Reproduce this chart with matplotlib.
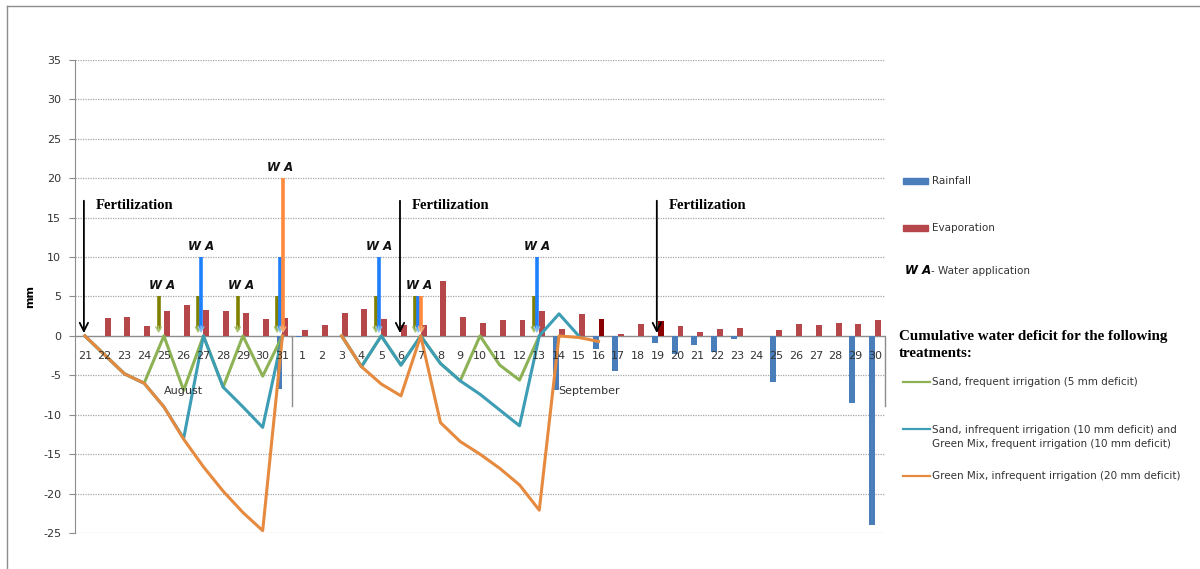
import numpy as np
import matplotlib
matplotlib.use("Agg")
import matplotlib.pyplot as plt
from matplotlib.lines import Line2D
from matplotlib.patches import Rectangle

plt.rcParams['axes.unicode_minus'] = False

# Categories: Aug 21-31 then Sep 1-30
day_labels = [str(d) for d in range(21, 32)] + [str(d) for d in range(1, 31)]
months = ['August', 'September']
month_len = [11, 30]

nan = np.nan

# Evaporation (mm), positive bars
evaporation = [0, 2.3, 2.45, 1.2, 3.2, 3.9, 3.3, 3.2, 2.95, 2.15, 2.3,
               0.75, 1.4, 2.9, 3.4, 2.2, 1.4, 1.4, 7.0, 2.45, 1.6,
               2.0, 2.0, 3.2, 0.85, 2.8, 2.2, 0.25, 1.5, 1.85, 1.2,
               0.5, 0.9, 1.0, 0, 0.75, 1.5, 1.4, 1.65, 1.5, 2.0]
evap_dark = ['16', '19']   # September days drawn in dark red

# Rainfall (mm), drawn as negative bars
rainfall = [0, 0, 0, 0, 0, 0, 0, 0, 0, 0, -6.7,
            -0.15, 0, 0, 0, 0, 0, 0, 0, 0, 0,
            0, 0, 0, -6.9, 0, -1.6, -4.4, 0, -0.85, -2.3,
            -1.2, -2.0, -0.4, 0, -5.9, 0, 0, 0, -8.5, -24.0]

# Cumulative water deficit per treatment
sand_freq = [0, -2.4, -4.8, -6.0, 0, -6.9, 0, -6.5, 0, -5.1, 0,
             nan, nan, 0, -3.9, 0, -3.7, 0, -3.5, -5.7, 0,
             -3.7, -5.6, 0] + [nan] * 17
sand_infreq = [0, -2.4, -4.8, -6.0, -9.0, -13.0, 0, -6.5, -9.0, -11.6, 0,
               nan, nan, 0, -3.9, 0, -3.7, 0, -3.5, -5.7, -7.4,
               -9.4, -11.4, 0, 2.8, 0] + [nan] * 15
gm_infreq = [0, -2.4, -4.8, -6.0, -9.0, -13.1, -16.6, -19.7, -22.4, -24.7, 0,
             nan, nan, 0, -3.9, -6.1, -7.6, 0, -11.0, -13.4, -15.0,
             -16.8, -18.9, -22.1, 0, -0.2, -0.7] + [nan] * 14

# Water applications: (category index, mm)
wa_5mm = [(4, 5), (6, 5), (8, 5), (10, 5), (15, 5), (17, 5), (23, 5)]
wa_10mm = [(6, 10), (10, 10), (15, 10), (17, 5), (23, 10)]
wa_20mm = [(10, 20), (17, 5)]

fert_days = [0, 16, 29]

c_rain = '#4A7EBB'
c_evap = '#B5474A'
c_dark = '#8B0000'
c_green = '#8DB255'
c_teal = '#3C9DB5'
c_orange = '#E58A3E'
c_grid = '#A6A6A6'

fig = plt.figure(figsize=(12, 5.69), dpi=100)
W, H = 1200.0, 569.0

def px(x, y):
    return x / W, 1 - y / H

ax = fig.add_axes([75 / W, 1 - 533 / H, 810 / W, 473 / H])
x = np.arange(len(day_labels))
ax.set_xlim(-0.5, len(day_labels) - 0.5)
ax.set_ylim(-25, 35)

# grid + axes
for yv in range(-25, 40, 5):
    if yv != 0:
        ax.axhline(yv, color=c_grid, lw=0.9, ls=(0, (1, 1)), zorder=0)
ax.axhline(0, color='#8C8C8C', lw=1.0, zorder=1)
for s in ['top', 'right', 'bottom']:
    ax.spines[s].set_visible(False)
ax.spines['left'].set_color('#8C8C8C')
ax.set_xticks([])
ax.set_yticks(range(-25, 40, 5))
ax.tick_params(axis='y', length=4, color='#8C8C8C', labelsize=8, pad=6, labelcolor='#333333')

# bars
ecol = [c_dark if (i >= 11 and day_labels[i] in evap_dark) else c_evap for i in x]
ax.bar(x + 0.15, evaporation, width=0.3, color=ecol, zorder=2)
ax.bar(x - 0.15, rainfall, width=0.3, color=c_rain, zorder=2)

# deficit lines
ax.plot(x, sand_freq, color=c_green, lw=2.2, zorder=3)
ax.plot(x, sand_infreq, color=c_teal, lw=2.2, zorder=3)
ax.plot(x, gm_infreq, color=c_orange, lw=2.2, zorder=3)

# water application arrows
def wa_arrows(lst, col, head, off):
    for d, h in lst:
        xx = d + off
        ax.plot([xx, xx], [h, 0.8], color=col, lw=2.6, solid_capstyle='butt', zorder=4)
        ax.annotate('', xy=(xx, 0), xytext=(xx, 1.6),
                    arrowprops=dict(arrowstyle='->,head_length=0.35,head_width=0.2',
                                    color=head, lw=1.0), zorder=4)

wa_arrows(wa_5mm, '#808000', '#A9C46E', -0.27)
wa_arrows(wa_10mm, '#1E7FFF', '#8CC4F0', -0.12)
wa_arrows(wa_20mm, '#FF8A3D', '#F7B078', 0.03)

tops = {}
for lst in (wa_5mm, wa_10mm, wa_20mm):
    for d, h in lst:
        tops[d] = max(tops.get(d, 0), h)
for d, h in tops.items():
    ax.text(d - 0.1, h + 1.35, 'W A', ha='center', va='center', fontsize=8.5,
            fontweight='bold', style='italic', color='#111111', zorder=5)

# fertilization arrows
for d in fert_days:
    ax.annotate('', xy=(d - 0.05, 0), xytext=(d - 0.05, 17.5),
                arrowprops=dict(arrowstyle='->,head_length=0.6,head_width=0.3',
                                color='black', lw=1.3), zorder=5)
    ax.text(d + 0.55, 16.6, 'Fertilization', ha='left', va='center',
            fontsize=10.5, fontweight='bold', family='Liberation Serif')

# category labels
for i, lab in enumerate(day_labels):
    ax.text(i, -2.6, lab, ha='center', va='center', fontsize=8, color='#333333', zorder=6)
start = 0
for m, n in zip(months, month_len):
    ax.text(start + (n - 1) / 2, -7.05, m, ha='center', va='center', fontsize=8, color='#333333')
    ax.plot([start + n - 0.5] * 2, [0, -8.9], color='#8C8C8C', lw=1.0, clip_on=False)
    start += n

fig.text(*px(30, 297), 'mm', rotation=90, ha='center', va='center', fontsize=8, fontweight='bold')

# legend (manual)
fs = 7.5
fig.add_artist(Rectangle(px(903, 184), 25 / W, 6 / H, color=c_rain, transform=fig.transFigure))
fig.text(*px(932, 181), 'Rainfall', va='center', fontsize=fs, color='#333333')
fig.add_artist(Rectangle(px(903, 231), 25 / W, 6 / H, color=c_evap, transform=fig.transFigure))
fig.text(*px(932, 228), 'Evaporation', va='center', fontsize=fs, color='#333333')
fig.text(*px(905, 271), 'W A', va='center', fontsize=8.5, fontweight='bold', style='italic')
fig.text(*px(931, 271), '- Water application', va='center', fontsize=fs, color='#333333')
fig.text(*px(899, 345), 'Cumulative water deficit for the following\ntreatments:', va='center',
         fontsize=10.8, fontweight='bold', family='Liberation Serif', linespacing=1.35)
for yy, col, txt in [(382, c_green, 'Sand, frequent irrigation (5 mm deficit)'),
                     (429, c_teal, 'Sand, infrequent irrigation (10 mm deficit) and\nGreen Mix, frequent irrigation (10 mm deficit)'),
                     (476, c_orange, 'Green Mix, infrequent irrigation (20 mm deficit)')]:
    x0, y0 = px(903, yy)
    fig.add_artist(Line2D([x0, 930 / W], [y0, y0], color=col, lw=1.6, transform=fig.transFigure))
    ty = yy + 8 if '\n' in txt else yy
    fig.text(*px(932, ty), txt, va='center', fontsize=fs,
             color='#333333', linespacing=1.45)

# chart border (only top/left visible)
fig.add_artist(Line2D([7 / W, 7 / W], [0, 1 - 6 / H], color='#8C8C8C', lw=1, transform=fig.transFigure))
fig.add_artist(Line2D([7 / W, 1], [1 - 6 / H, 1 - 6 / H], color='#8C8C8C', lw=1, transform=fig.transFigure))

fig.savefig('out.png', dpi=100)
